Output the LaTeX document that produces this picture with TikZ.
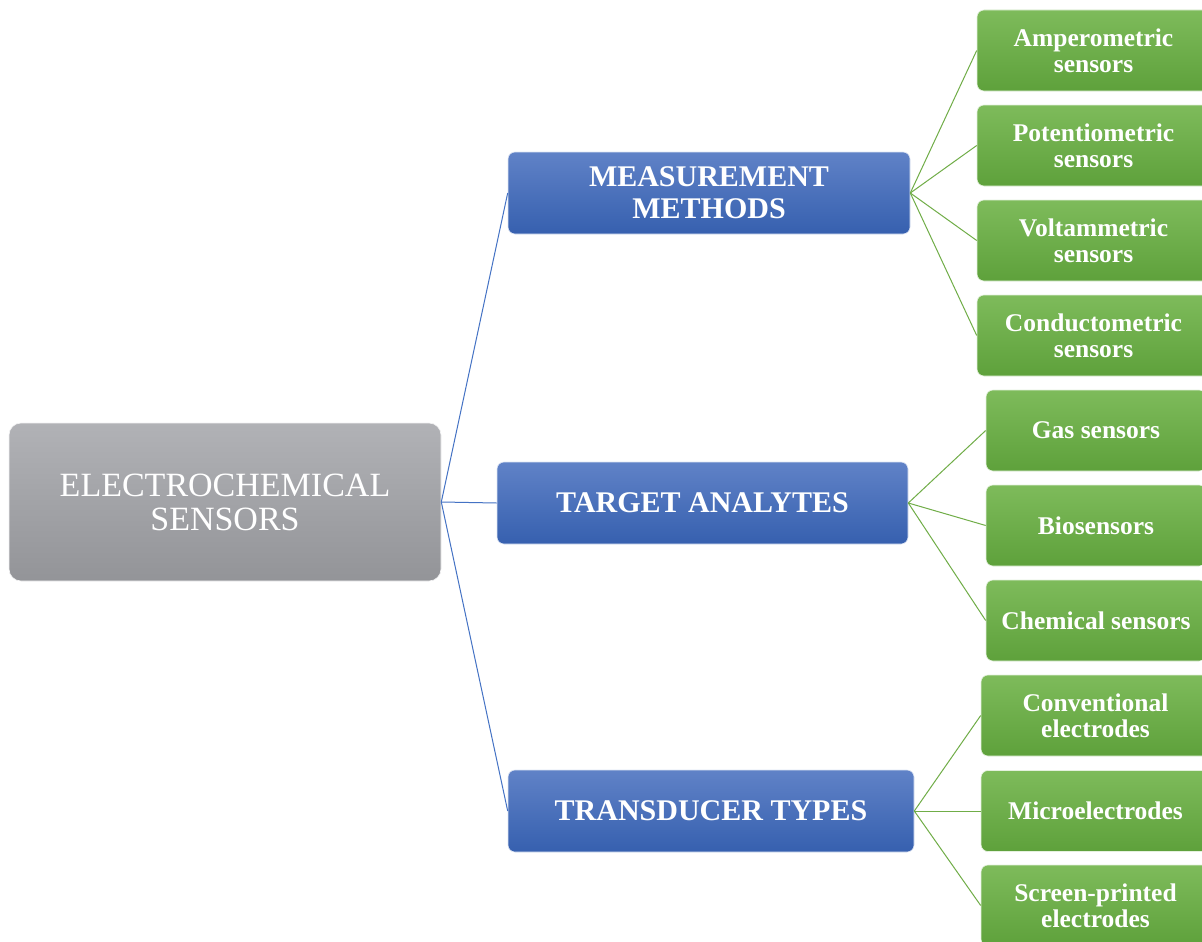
\documentclass[tikz,border=0pt]{standalone}
\usepackage{fontspec}
\setmainfont{Liberation Serif}
\definecolor{rootTop}{HTML}{B1B2B6}
\definecolor{rootBot}{HTML}{939498}
\definecolor{blueTop}{HTML}{6082C7}
\definecolor{blueBot}{HTML}{3660AF}
\definecolor{greenTop}{HTML}{7EBB5B}
\definecolor{greenBot}{HTML}{5EA13B}
\definecolor{blueLine}{HTML}{4472C4}
\definecolor{greenLine}{HTML}{70AD47}
\tikzset{
  rootbox/.style={rectangle, rounded corners=12pt, top color=rootTop, bottom color=rootBot,
    draw=white!85!rootTop, line width=0.6pt, text=white, align=center, inner sep=0pt,
    minimum width=432pt, minimum height=158pt,
    font=\fontsize{34}{34}\selectfont},
  bluebox/.style={rectangle, rounded corners=7pt, top color=blueTop, bottom color=blueBot,
    draw=white!80!blueTop, line width=0.6pt, text=white, align=center, inner sep=0pt,
    minimum height=82pt, font=\fontsize{30}{32}\selectfont\bfseries},
  greenbox/.style={rectangle, rounded corners=7pt, top color=greenTop, bottom color=greenBot,
    draw=white!80!greenTop, line width=0.6pt, text=white, align=center, inner sep=0pt,
    minimum height=81pt, font=\fontsize{25.5}{26}\selectfont\bfseries},
  blink/.style={draw=blueLine, line width=1pt},
  glink/.style={draw=greenLine, line width=1pt}
}
\begin{document}
\begin{tikzpicture}[x=1pt,y=-1pt]
\useasboundingbox (0,0) rectangle (1202,942);
\clip (0,0) rectangle (1202,942);
\fill[white] (0,0) rectangle (1202,942);
% root
\node[rootbox] (root) at (225,502) {ELECTROCHEMICAL\\SENSORS};
% blue
\node[bluebox, minimum width=402pt] (mm) at (709,193) {MEASUREMENT\\METHODS};
\node[bluebox, minimum width=411pt] (ta) at (702.5,503) {TARGET ANALYTES};
\node[bluebox, minimum width=406pt] (tt) at (711,811) {TRANSDUCER TYPES};
% green
\node[greenbox, minimum width=233pt] (g1) at (1093.5,50.5) {Amperometric\\sensors};
\node[greenbox, minimum width=233pt] (g2) at (1093.5,145.5) {Potentiometric\\sensors};
\node[greenbox, minimum width=233pt] (g3) at (1093.5,240.5) {Voltammetric\\sensors};
\node[greenbox, minimum width=233pt] (g4) at (1093.5,335.5) {Conductometric\\sensors};
\node[greenbox, minimum width=220pt] (g5) at (1096,430.5) {Gas sensors};
\node[greenbox, minimum width=220pt] (g6) at (1096,525.5) {Biosensors};
\node[greenbox, minimum width=220pt] (g7) at (1096,620.5) {Chemical sensors};
\node[greenbox, minimum width=229pt] (g8) at (1095.5,715.5) {Conventional\\electrodes};
\node[greenbox, minimum width=229pt] (g9) at (1095.5,811) {Microelectrodes};
\node[greenbox, minimum width=229pt] (g10) at (1095.5,905.5) {Screen-printed\\electrodes};
% links
\draw[blink] (root.east) -- (mm.west);
\draw[blink] (root.east) -- (ta.west);
\draw[blink] (root.east) -- (tt.west);
\foreach \g in {g1,g2,g3,g4} \draw[glink] (mm.east) -- (\g.west);
\foreach \g in {g5,g6,g7} \draw[glink] (ta.east) -- (\g.west);
\foreach \g in {g8,g9,g10} \draw[glink] (tt.east) -- (\g.west);
\end{tikzpicture}
\end{document}
